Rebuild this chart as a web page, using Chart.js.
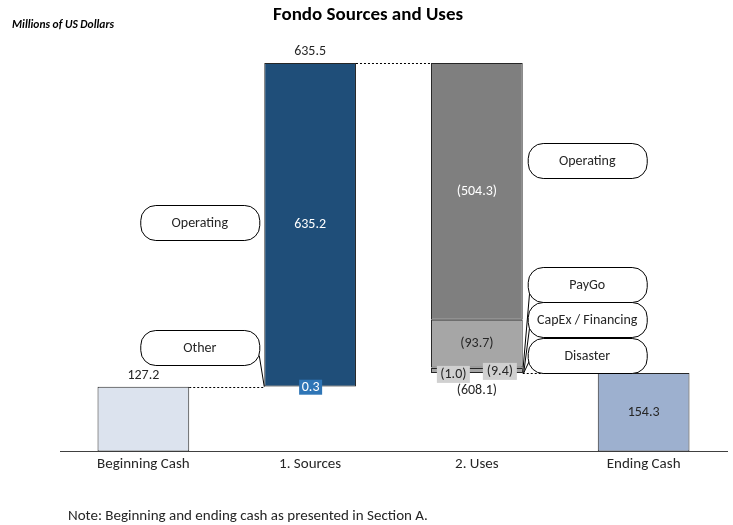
<!DOCTYPE html>
<html>
<head>
<meta charset="utf-8">
<script src="https://cdn.jsdelivr.net/npm/chart.js@4"></script>
<style>
  html,body{margin:0;padding:0;background:#fff;}
  #wrap{width:733px;height:525px;position:relative;}
</style>
</head>
<body>
<div id="wrap"><canvas id="c" width="733" height="525"></canvas></div>
<script>
// ---- data ----
const categories = ['Beginning Cash', '1. Sources', '2. Uses', 'Ending Cash'];
const beginningCash = 127.2;
const endingCash = 154.3;
const sourcesNames = ['Other', 'Operating'];
const sourcesValues = [0.3, 635.2];
const sourcesTotalLabel = '635.5';
const usesNames = ['Disaster', 'CapEx / Financing', 'PayGo', 'Operating'];
const usesValues = [9.4, 1.0, 93.7, 504.3];
const usesLabels = ['(9.4)', '(1.0)', '(93.7)', '(504.3)'];
const usesTotalLabel = '(608.1)';
const titleText = 'Fondo Sources and Uses';
const unitText = 'Millions of US Dollars';
const noteText = 'Note: Beginning and ending cash as presented in Section A.';

// waterfall bases
const sourcesSum = sourcesValues.reduce((a, b) => a + b, 0);
const usesSum = usesValues.reduce((a, b) => a + b, 0);
const sourcesBase = beginningCash;
const usesBase = beginningCash + sourcesSum - usesSum;

const FONT = "Carlito, Lato, 'Liberation Sans', sans-serif";
const DARK = '#262626';
const BORDER = '#262626';

const usesColors = ['#A6A6A6', '#A6A6A6', '#A6A6A6', '#7F7F7F'];

const datasets = [
  { label: 'base', data: [0, sourcesBase, usesBase, 0], backgroundColor: 'rgba(0,0,0,0)', borderWidth: 0 },
  { label: 'cash', data: [beginningCash, null, null, endingCash], backgroundColor: ['#DCE3EE', null, null, '#9DB0CF'] },
];
sourcesValues.forEach((v, i) => datasets.push({ label: 'S ' + sourcesNames[i], data: [null, v, null, null], backgroundColor: '#1F4E79' }));
usesValues.forEach((v, i) => datasets.push({ label: 'U ' + usesNames[i], data: [null, null, v, null], backgroundColor: usesColors[i] }));
datasets.forEach((d, i) => {
  d.stack = 's';
  d.categoryPercentage = 1;
  d.barPercentage = 0.55;
  d.borderSkipped = false;
  if (i > 0) { d.borderColor = BORDER; d.borderWidth = 1; }
});

function pill(ctx, x, y, w, h, r) {
  ctx.beginPath();
  ctx.moveTo(x + r, y);
  ctx.lineTo(x + w - r, y);
  ctx.arcTo(x + w, y, x + w, y + r, r);
  ctx.lineTo(x + w, y + h - r);
  ctx.arcTo(x + w, y + h, x + w - r, y + h, r);
  ctx.lineTo(x + r, y + h);
  ctx.arcTo(x, y + h, x, y + h - r, r);
  ctx.lineTo(x, y + r);
  ctx.arcTo(x, y, x + r, y, r);
  ctx.closePath();
}

const annot = {
  id: 'annot',
  afterDatasetsDraw(chart) {
    const ctx = chart.ctx;
    const ys = chart.scales.y;
    const bar = (ds, idx) => chart.getDatasetMeta(ds).data[idx];
    const left = b => b.x - b.width / 2;
    const right = b => b.x + b.width / 2;
    const txt = (t, x, y, color, font) => {
      ctx.fillStyle = color; ctx.font = font || ('14px ' + FONT);
      ctx.textAlign = 'center'; ctx.textBaseline = 'middle';
      ctx.fillText(t, x, y);
    };
    ctx.save();
    const beg = bar(1, 0), end = bar(1, 3);
    const sOther = bar(2, 1), sOp = bar(3, 1);
    const uDis = bar(4, 2), uCap = bar(5, 2), uPay = bar(6, 2), uOp = bar(7, 2);

    // dotted connectors
    ctx.strokeStyle = '#000'; ctx.lineWidth = 1; ctx.setLineDash([2, 2]);
    const hl = (x1, x2, y) => { ctx.beginPath(); ctx.moveTo(x1, Math.round(y) + 0.5); ctx.lineTo(x2, Math.round(y) + 0.5); ctx.stroke(); };
    hl(right(beg), left(sOther), beg.y);
    hl(right(sOp), left(uOp), sOp.y);
    hl(right(uDis), left(end), uDis.base);
    ctx.setLineDash([]);

    // value labels
    txt(String(beginningCash.toFixed(1)), beg.x, beg.y - 11, DARK);
    txt(sourcesTotalLabel, sOp.x, sOp.y - 11, DARK);
    txt(sourcesValues[1].toFixed(1), sOp.x, (sOp.y + sOp.base) / 2, '#fff');
    // 0.3 boxed
    ctx.fillStyle = '#2E75B6';
    ctx.fillRect(sOther.x - 11, sOther.base - 7, 23, 15);
    txt(sourcesValues[0].toFixed(1), sOther.x + 0.5, sOther.base + 0.5, '#fff');
    txt(usesLabels[3], uOp.x, (uOp.y + uOp.base) / 2, '#fff');
    txt(usesLabels[2], uPay.x, (uPay.y + uPay.base) / 2, DARK);
    // small segment labels with grey boxes
    ctx.fillStyle = '#D0D0D0';
    ctx.fillRect(uCap.x - 40, uDis.base - 7, 33, 17);
    ctx.fillRect(uCap.x + 6, uDis.base - 10, 34, 17);
    txt(usesLabels[1], uCap.x - 23.5, uDis.base + 1.5, DARK);
    txt(usesLabels[0], uCap.x + 23, uDis.base - 1.5, DARK);
    txt(usesTotalLabel, uDis.x, uDis.base + 18, DARK);
    txt(endingCash.toFixed(1), end.x, (end.y + end.base) / 2, DARK);

    // callouts
    const W = 119, H = 35, R = 15;
    const callout = (t, xLeft, v) => {
      const cy = ys.getPixelForValue(v);
      pill(ctx, xLeft + 0.5, Math.round(cy - H / 2) + 0.5, W, H, R);
      ctx.fillStyle = '#fff'; ctx.fill();
      ctx.strokeStyle = '#000'; ctx.lineWidth = 1; ctx.stroke();
      txt(t, xLeft + W / 2, cy + 1, DARK);
      return cy;
    };
    const line = (x1, y1, x2, y2) => { ctx.strokeStyle = '#000'; ctx.lineWidth = 1; ctx.beginPath(); ctx.moveTo(x1, y1); ctx.lineTo(x2, y2); ctx.stroke(); };
    const sx = left(sOp) - 5 - W;
    const ux = right(uOp) + 5;
    // leader lines first (under pills)
    line(right(uOp), uDis.base, ux + 2, ys.getPixelForValue(322) + 4);
    line(right(uOp) + 1, uDis.base, ux + 2, ys.getPixelForValue(255) + 5);
    line(right(uOp) + 1, uDis.base, ux + 2, ys.getPixelForValue(189) + 5);
    line(left(sOther), sOther.base, sx + W, ys.getPixelForValue(188));
    callout('Operating', sx, 450.5);
    callout(sourcesNames[0], sx, 203.2);
    callout('Operating', ux, 572.2);
    callout('PayGo', ux, 326.9);
    callout('CapEx / Financing', ux, 258.2);
    callout('Disaster', ux, 189.4);

    ctx.restore();
  },
  afterDraw(chart) {
    const ctx = chart.ctx;
    ctx.save();
    ctx.fillStyle = '#000';
    ctx.textBaseline = 'middle';
    ctx.textAlign = 'center';
    ctx.font = 'bold 19px ' + FONT;
    ctx.fillText(titleText, 368, 15);
    ctx.textAlign = 'left';
    ctx.font = 'italic bold 11.5px ' + FONT;
    ctx.fillText(unitText, 12, 25);
    ctx.font = '15px ' + FONT;
    ctx.fillStyle = DARK;
    ctx.fillText(noteText, 68, 516);
    ctx.restore();
  }
};

new Chart(document.getElementById('c'), {
  type: 'bar',
  data: { labels: categories, datasets },
  options: {
    responsive: false,
    animation: false,
    layout: { padding: { left: 60, right: 6, top: 30, bottom: 43.5 } },
    plugins: { legend: { display: false }, tooltip: { enabled: false }, title: { display: false } },
    scales: {
      x: {
        stacked: true,
        grid: { display: false, drawTicks: false },
        border: { display: true, color: '#404040', width: 1 },
        ticks: { color: DARK, font: { family: FONT, size: 15 }, padding: 4, maxRotation: 0 },
        afterFit: s => { s.height = 30; }
      },
      y: { stacked: true, display: false, min: 0, max: 827.4 }
    }
  },
  plugins: [annot]
});
</script>
</body>
</html>
